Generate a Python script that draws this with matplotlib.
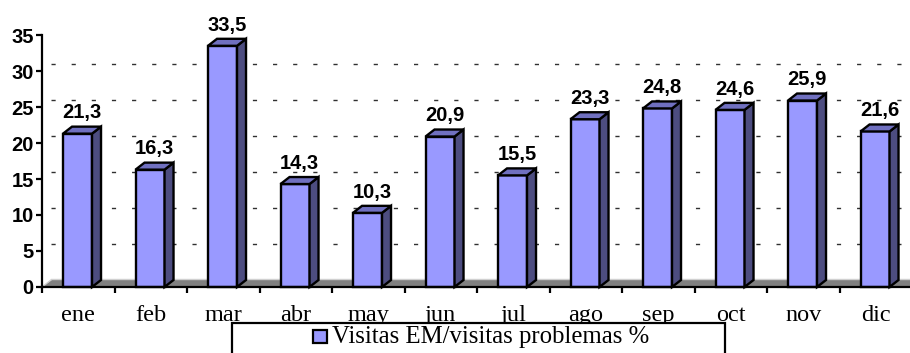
import matplotlib
matplotlib.use("Agg")
import matplotlib.pyplot as plt
from matplotlib.patches import Rectangle, Polygon

# Monthly share of EM visits over problem visits (%)
months = ["ene", "feb", "mar", "abr", "may", "jun", "jul", "ago", "sep", "oct", "nov", "dic"]
values = [21.3, 16.3, 33.5, 14.3, 10.3, 20.9, 15.5, 23.3, 24.8, 24.6, 25.9, 21.6]
y_ticks = [0, 5, 10, 15, 20, 25, 30, 35]
grid_levels = [5, 10, 15, 20, 25, 30]
series_name = "Visitas EM/visitas problemas %"

W, H = 910, 353
DPI = 100
fig = plt.figure(figsize=(W / DPI, H / DPI), dpi=DPI)

# plot area in pixels
left_px, right_px, top_px, bottom_px = 42, 910, 35, 287
cat_px = 72.5
ax = fig.add_axes([left_px / W, (H - bottom_px) / H,
                   (right_px - left_px) / W, (bottom_px - top_px) / H])
xmax = (right_px - left_px) / cat_px
ax.set_xlim(0, xmax)
ax.set_ylim(0, 35)
ax.set_facecolor("none")

px_per_unit = (bottom_px - top_px) / 35.0
dx = 9 / cat_px           # depth offset, horizontal
dy = 7 / px_per_unit      # depth offset, vertical

front_col = "#9999FF"
side_col = "#4D4D80"
top_col = "#7070C0"
edge_lw = 1.7

# floor
floor = Polygon([(0, 0), (xmax, 0), (xmax + dx, dy), (dx, dy)], closed=True,
                facecolor="#808080", edgecolor="none", zorder=1, clip_on=False)
ax.add_patch(floor)
ax.plot([dx, xmax + dx], [dy + 0.15, dy + 0.15], color="#D0D0D0", lw=1.0,
        zorder=1.1, clip_on=False)
ax.plot([0, dx], [0, dy], color="#D0D0D0", lw=1.0, zorder=1.1, clip_on=False)

# back-wall gridlines
for g in grid_levels:
    ax.plot([dx, xmax], [g + dy, g + dy], color="#303030", lw=1.0,
            linestyle=(0, (3.0, 11.5)), zorder=0.5, clip_on=False)

# 3D-style columns
bar_off, bar_w = 0.29, 0.40
for i, v in enumerate(values):
    x0 = i + bar_off
    x1 = x0 + bar_w
    ax.add_patch(Rectangle((x0, 0), bar_w, v, facecolor=front_col,
                           edgecolor="black", lw=edge_lw, zorder=3,
                           joinstyle="miter", clip_on=False))
    ax.add_patch(Polygon([(x1, 0), (x1 + dx, dy), (x1 + dx, v + dy), (x1, v)],
                         closed=True, facecolor=side_col, edgecolor="black",
                         lw=edge_lw, zorder=3, clip_on=False))
    ax.add_patch(Polygon([(x0, v), (x1, v), (x1 + dx, v + dy), (x0 + dx, v + dy)],
                         closed=True, facecolor=top_col, edgecolor="black",
                         lw=edge_lw, zorder=3, clip_on=False))
    ax.annotate(f"{v:.1f}".replace(".", ","), xy=(x0 + bar_w / 2 + dx / 2, v + dy),
                xytext=(0, 3), textcoords="offset points", ha="center",
                va="bottom", fontsize=14.5, fontweight="bold",
                family="Liberation Sans", zorder=4, annotation_clip=False)

# axes
for s in ["top", "right"]:
    ax.spines[s].set_visible(False)
for s in ["left", "bottom"]:
    ax.spines[s].set_linewidth(1.6)
    ax.spines[s].set_zorder(5)
ax.set_yticks(y_ticks)
ax.set_yticklabels([str(t) for t in y_ticks], fontsize=14.5, fontweight="bold",
                   family="Liberation Sans")
ax.tick_params(axis="y", direction="out", length=4, width=1.6, pad=2)
ax.set_xticks(range(len(months)))
ax.set_xticklabels([])
ax.tick_params(axis="x", which="major", direction="out", length=4, width=1.6)
ax.set_xticks([i + 0.5 for i in range(len(months))], minor=True)
ax.set_xticklabels(months, minor=True, fontsize=17.5, family="Liberation Serif")
ax.tick_params(axis="x", which="minor", length=0, pad=13)

# legend box
fig.patches.append(Rectangle((232 / W, -0.2), (725 - 232) / W, 0.2 + (H - 323) / H,
                             transform=fig.transFigure, facecolor="white",
                             edgecolor="black", lw=1.6, zorder=10))
fig.patches.append(Rectangle((313 / W, (H - 343) / H), 14 / W, 13 / H,
                             transform=fig.transFigure, facecolor=front_col,
                             edgecolor="black", lw=1.6, zorder=11))
fig.text(332 / W, (H - 343) / H, series_name, fontsize=17.8,
         family="Liberation Serif", ha="left", va="baseline", zorder=12)

fig.savefig("out.png", dpi=DPI)
